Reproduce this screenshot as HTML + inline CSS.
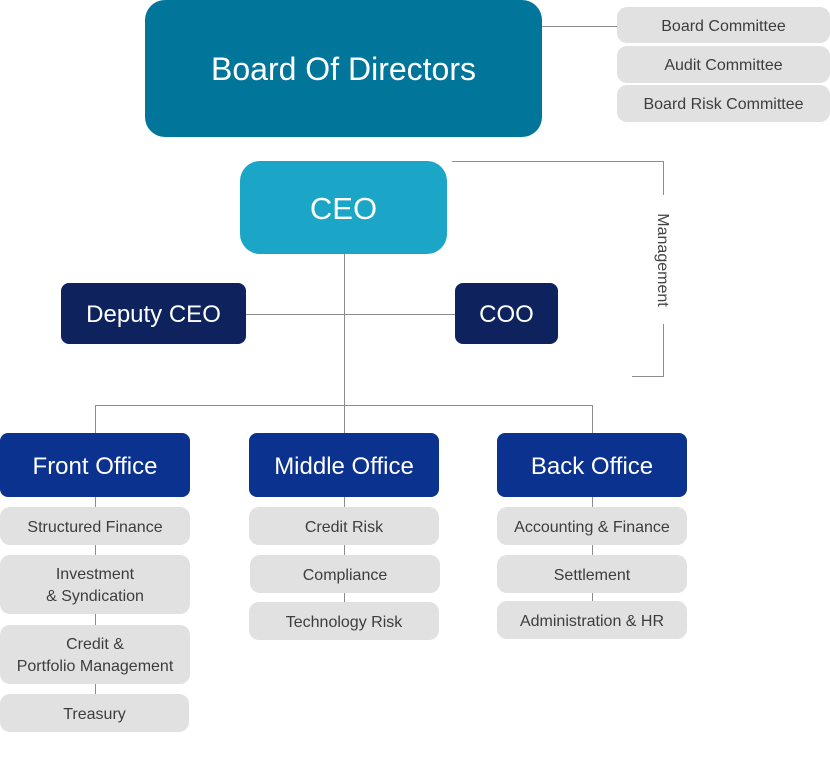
<!DOCTYPE html>
<html><head><meta charset="utf-8"><style>
html,body{margin:0;padding:0;background:#fff;}
body{width:830px;height:778px;position:relative;overflow:hidden;font-family:"Liberation Sans",sans-serif;}
.b{position:absolute;display:flex;align-items:center;justify-content:center;text-align:center;box-sizing:border-box;}
.g{background:#e1e1e1;color:#3d3d3d;font-size:16px;border-radius:10px;line-height:22px;padding-top:3px;}
.n{background:#0e235e;color:#fff;font-size:24px;border-radius:8px;padding-top:2px;}
.o{background:#0c3290;color:#fff;font-size:24px;border-radius:8px;padding-top:3px;}
svg{position:absolute;left:0;top:0;}
</style></head><body>
<svg width="830" height="778" viewBox="0 0 830 778">
<g stroke="#8c8c8c" stroke-width="1" fill="none">
<line x1="542" y1="26.5" x2="618" y2="26.5"/>
<polyline points="452,161.5 663.5,161.5 663.5,195"/>
<polyline points="663.5,324 663.5,376.5 632,376.5"/>
<line x1="344.5" y1="254" x2="344.5" y2="602"/>
<line x1="246" y1="314.5" x2="455" y2="314.5"/>
<line x1="95.5" y1="405.5" x2="592.5" y2="405.5"/>
<line x1="95.5" y1="405" x2="95.5" y2="694"/>
<line x1="592.5" y1="405" x2="592.5" y2="601"/>
</g>
</svg>
<div class="b" style="left:145px;top:0;width:397px;height:137px;background:#02769a;border-radius:20px;color:#fff;font-size:32px;padding-top:2px;">Board Of Directors</div>
<div class="b g" style="left:617px;top:7px;width:213px;height:36px;">Board Committee</div>
<div class="b g" style="left:617px;top:46px;width:213px;height:37px;">Audit Committee</div>
<div class="b g" style="left:617px;top:85px;width:213px;height:37px;">Board Risk Committee</div>
<div class="b" style="left:240px;top:161px;width:207px;height:93px;background:#1ba6c8;border-radius:20px;color:#fff;font-size:31px;padding-top:2px;">CEO</div>
<div class="b" style="left:612px;top:250px;width:100px;height:20px;transform:rotate(90deg);color:#444;font-size:16px;">Management</div>
<div class="b n" style="left:61px;top:283px;width:185px;height:61px;">Deputy CEO</div>
<div class="b n" style="left:455px;top:283px;width:103px;height:61px;">COO</div>
<div class="b o" style="left:0;top:433px;width:190px;height:64px;">Front Office</div>
<div class="b o" style="left:249px;top:433px;width:190px;height:64px;">Middle Office</div>
<div class="b o" style="left:497px;top:433px;width:190px;height:64px;">Back Office</div>
<div class="b g" style="left:0;top:507px;width:190px;height:38px;">Structured Finance</div>
<div class="b g" style="left:0;top:555px;width:190px;height:59px;">Investment<br>&amp; Syndication</div>
<div class="b g" style="left:0;top:625px;width:190px;height:59px;">Credit &amp;<br>Portfolio Management</div>
<div class="b g" style="left:0;top:694px;width:189px;height:38px;">Treasury</div>
<div class="b g" style="left:249px;top:507px;width:190px;height:38px;">Credit Risk</div>
<div class="b g" style="left:250px;top:555px;width:190px;height:38px;">Compliance</div>
<div class="b g" style="left:249px;top:602px;width:190px;height:38px;">Technology Risk</div>
<div class="b g" style="left:497px;top:507px;width:190px;height:38px;">Accounting &amp; Finance</div>
<div class="b g" style="left:497px;top:555px;width:190px;height:38px;">Settlement</div>
<div class="b g" style="left:497px;top:601px;width:190px;height:38px;">Administration &amp; HR</div>
</body></html>
